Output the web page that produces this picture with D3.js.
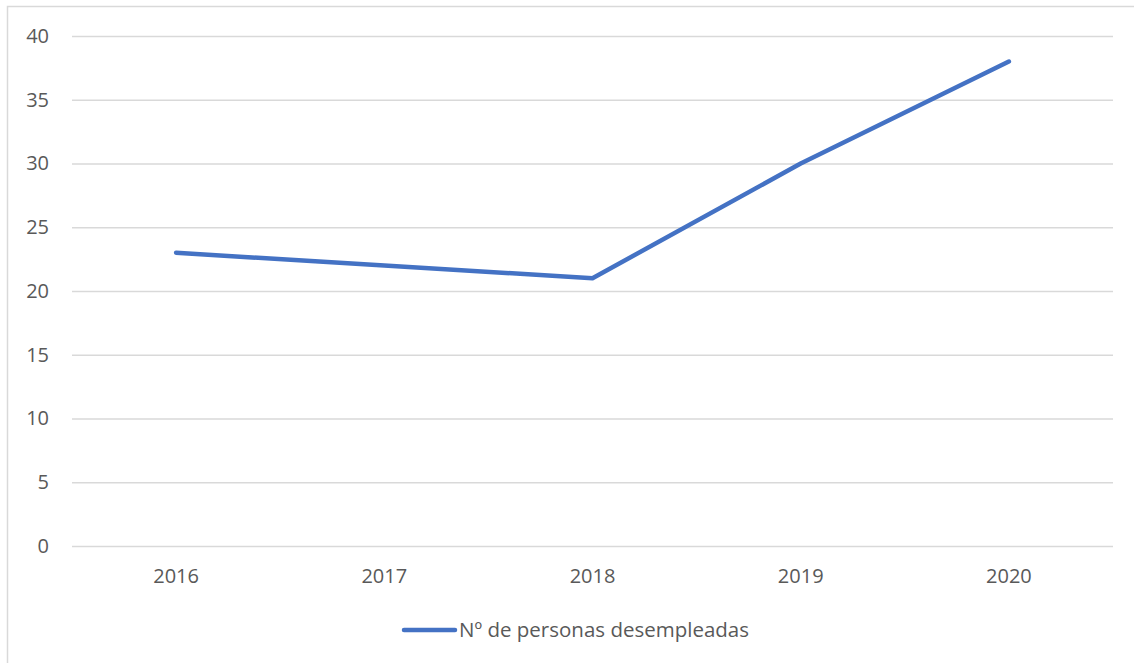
<!DOCTYPE html>
<html><head><meta charset="utf-8">
<script src="https://cdn.jsdelivr.net/npm/d3@7"></script>
<style>body{margin:0;background:#fff}svg{display:block}</style>
</head><body>
<svg id="c" width="1134" height="663"></svg>
<script>
const categories = ["2016","2017","2018","2019","2020"];
const values = [23, 22, 21, 30, 38];
const yTicks = [0,5,10,15,20,25,30,35,40];
const seriesName = "Nº de personas desempleadas";

const svg = d3.select("#c");
const font = "'Open Sans', 'Noto Sans', sans-serif";
const textColor = "#595959";

// outer frame
svg.append("rect").attr("x",7.5).attr("y",6.5).attr("width",1140).attr("height",670)
  .attr("fill","none").attr("stroke","#d9d9d9").attr("stroke-width",1.5);

const x = d3.scaleBand().domain(categories).range([72,1113]);
const y = d3.scaleLinear().domain([0,40]).range([546,36]);

const yAxis = d3.axisLeft(y).tickValues(yTicks).tickSize(-(1113-72)).tickPadding(23);
const gy = svg.append("g").attr("transform","translate(72,0)").call(yAxis);
gy.select(".domain").remove();
gy.selectAll(".tick line").attr("stroke","#d9d9d9").attr("stroke-width",1.3);
gy.selectAll(".tick text").attr("fill",textColor).style("font-family",font).style("font-size","20px");

const xAxis = d3.axisBottom(x).tickSize(0).tickPadding(23);
const gx = svg.append("g").attr("transform","translate(0,546)").call(xAxis);
gx.select(".domain").remove();
gx.selectAll(".tick text").attr("fill",textColor).style("font-family",font).style("font-size","20px");

const line = d3.line().x((d,i)=>x(categories[i])+x.bandwidth()/2).y(d=>y(d));
svg.append("path").datum(values).attr("d",line).attr("fill","none")
  .attr("stroke","#4472C4").attr("stroke-width",4.5).attr("stroke-linecap","round").attr("stroke-linejoin","round");

// legend
const lg = svg.append("g").attr("transform","translate(0,630)");
lg.append("line").attr("x1",404).attr("x2",455).attr("y1",0).attr("y2",0)
  .attr("stroke","#4472C4").attr("stroke-width",4.5).attr("stroke-linecap","round");
lg.append("text").attr("x",459).attr("y",0).attr("dy","0.35em").text(seriesName)
  .attr("fill",textColor).style("font-family",font).style("font-size","20.5px");
</script>
</body></html>
